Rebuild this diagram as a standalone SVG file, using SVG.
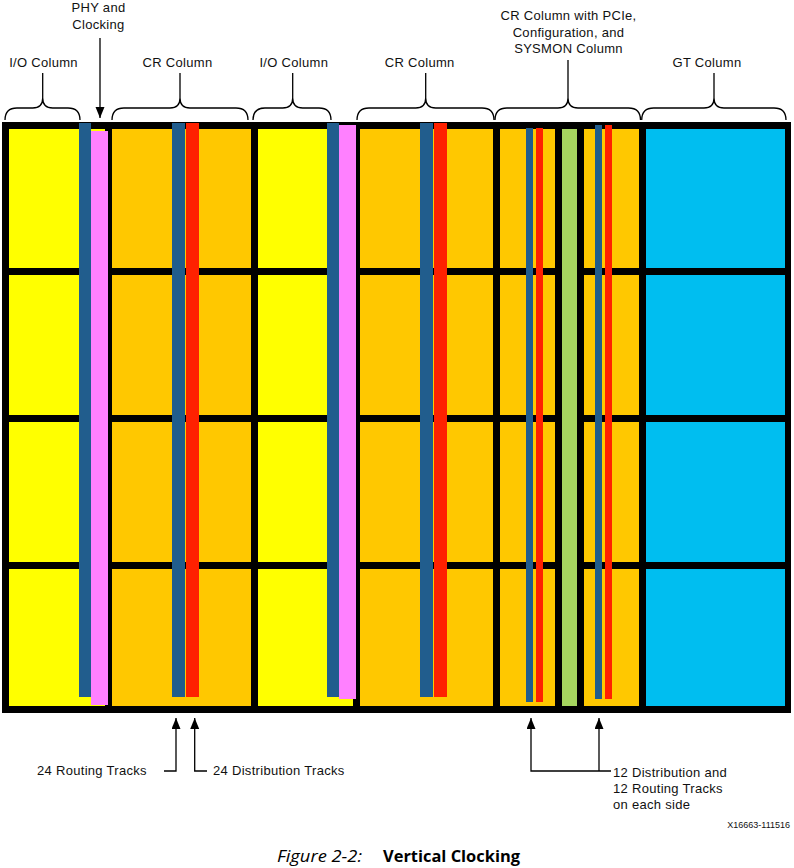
<svg xmlns="http://www.w3.org/2000/svg" width="794" height="868" viewBox="0 0 794 868">
<style>
.lbl{font-family:"Liberation Sans",Arial,sans-serif;font-size:13px;letter-spacing:0.3px;fill:#111}
.mid{text-anchor:middle}
.br{fill:none;stroke:#000;stroke-width:1.3}
.ln{fill:none;stroke:#000;stroke-width:1.3}
.y{fill:#FFFF00}.o{fill:#FFC800}.c{fill:#00BEF0}
.b{fill:#215D8D}.p{fill:#FF80FF}.r{fill:#FF2100}.g{fill:#A6D65F}
.cap{font-family:"Open Sans","Noto Sans",sans-serif;font-size:16px;fill:#000}
</style>
<defs>
<marker id="ah" markerUnits="userSpaceOnUse" markerWidth="12" markerHeight="10" refX="11" refY="4.5" orient="auto">
<path d="M0,0 L11,4.5 L0,9 z" fill="#000"/>
</marker>
</defs>
<rect width="794" height="868" fill="#fff"/>
<rect id="frame" x="2" y="122" width="789" height="591" fill="#000"/>

<g id="io-col-1">
<rect class="y" x="9" y="129" width="96" height="139"/>
<rect class="y" x="9" y="275" width="96" height="140"/>
<rect class="y" x="9" y="422" width="96" height="140"/>
<rect class="y" x="9" y="569" width="96" height="137"/>
<rect class="b" x="79" y="123" width="12" height="574"/>
<rect class="p" x="91" y="131" width="17" height="574"/>
</g>
<g id="cr-col-1">
<rect class="o" x="112" y="129" width="139" height="139"/>
<rect class="o" x="112" y="275" width="139" height="140"/>
<rect class="o" x="112" y="422" width="139" height="140"/>
<rect class="o" x="112" y="569" width="139" height="137"/>
<rect class="b" x="172" y="123" width="13" height="574"/>
<rect class="r" x="186" y="123" width="13" height="574"/>
</g>
<g id="io-col-2">
<rect class="y" x="258" y="129" width="95" height="139"/>
<rect class="y" x="258" y="275" width="95" height="140"/>
<rect class="y" x="258" y="422" width="95" height="140"/>
<rect class="y" x="258" y="569" width="95" height="137"/>
<rect class="b" x="327" y="123" width="12" height="574"/>
<rect class="p" x="339" y="125" width="17" height="574"/>
</g>
<g id="cr-col-2">
<rect class="o" x="360" y="129" width="133" height="139"/>
<rect class="o" x="360" y="275" width="133" height="140"/>
<rect class="o" x="360" y="422" width="133" height="140"/>
<rect class="o" x="360" y="569" width="133" height="137"/>
<rect class="b" x="420" y="123" width="13" height="574"/>
<rect class="r" x="434" y="123" width="13" height="574"/>
</g>
<g id="cr-pcie-col">
<rect class="o" x="500" y="129" width="55" height="139"/>
<rect class="o" x="500" y="275" width="55" height="140"/>
<rect class="o" x="500" y="422" width="55" height="140"/>
<rect class="o" x="500" y="569" width="55" height="137"/>
<rect class="o" x="584" y="129" width="55" height="139"/>
<rect class="o" x="584" y="275" width="55" height="140"/>
<rect class="o" x="584" y="422" width="55" height="140"/>
<rect class="o" x="584" y="569" width="55" height="137"/>
<rect class="g" x="562" y="129" width="15" height="577"/>
<rect class="b" x="526" y="128" width="7" height="574"/>
<rect class="r" x="536" y="128" width="7" height="574"/>
<rect class="b" x="595" y="125" width="7" height="574"/>
<rect class="r" x="605" y="125" width="7" height="574"/>
</g>
<g id="gt-col">
<rect class="c" x="646" y="129" width="139" height="139"/>
<rect class="c" x="646" y="275" width="139" height="140"/>
<rect class="c" x="646" y="422" width="139" height="140"/>
<rect class="c" x="646" y="569" width="139" height="137"/>
</g>

<g id="connectors">
<path class="br" d="M5,120 Q5,108 17,108 H32.7 Q42.7,108 42.7,98 Q42.7,108 52.7,108 H68 Q80,108 80,120 M42.7,98 V73"/>
<path class="br" d="M112,120 Q112,108 124,108 H170 Q180,108 180,98 Q180,108 190,108 H236 Q248,108 248,120 M180,98 V73"/>
<path class="br" d="M253,120 Q253,108 265,108 H282.7 Q292.7,108 292.7,98 Q292.7,108 302.7,108 H319 Q331,108 331,120 M292.7,98 V73"/>
<path class="br" d="M357,120 Q357,108 369,108 H415.7 Q425.7,108 425.7,98 Q425.7,108 435.7,108 H482 Q494,108 494,120 M425.7,98 V73"/>
<path class="br" d="M495,120 Q495,108 507,108 H558 Q568,108 568,98 Q568,108 578,108 H628.5 Q640.5,108 640.5,120 M568,98 V60"/>
<path class="br" d="M641.7,120 Q641.7,108 653.7,108 H704 Q714,108 714,98 Q714,108 724,108 H774 Q786,108 786,120 M714,98 V73"/>
<path class="ln" d="M100,38 V118" marker-end="url(#ah)"/>
<path class="ln" d="M164,771 H176 V718" marker-end="url(#ah)"/>
<path class="ln" d="M207,771 H194.7 V718" marker-end="url(#ah)"/>
<path class="ln" d="M611,771 H531 V718" marker-end="url(#ah)"/>
<path class="ln" d="M599,771 V718" marker-end="url(#ah)"/>
</g>

<g id="labels">
<text class="lbl mid" x="43.5" y="67">I/O Column</text>
<text class="lbl mid" x="98.5" y="12">PHY and</text>
<text class="lbl mid" x="98.5" y="29">Clocking</text>
<text class="lbl mid" x="177.5" y="67">CR Column</text>
<text class="lbl mid" x="293.8" y="67">I/O Column</text>
<text class="lbl mid" x="419.7" y="67">CR Column</text>
<text class="lbl mid" x="568.5" y="20">CR Column with PCIe,</text>
<text class="lbl mid" x="568.5" y="37">Configuration, and</text>
<text class="lbl mid" x="568.5" y="53">SYSMON Column</text>
<text class="lbl mid" x="707" y="67">GT Column</text>
<text class="lbl" x="37" y="775">24 Routing Tracks</text>
<text class="lbl" x="213" y="775">24 Distribution Tracks</text>
<text class="lbl" x="613" y="777">12 Distribution and</text>
<text class="lbl" x="613" y="793">12 Routing Tracks</text>
<text class="lbl" x="613" y="809">on each side</text>
<text x="790" y="828" text-anchor="end" style="font-family:'Liberation Sans',Arial,sans-serif;font-size:9px;fill:#111">X16663-111516</text>
<text class="cap" x="277" y="862" style="font-style:italic" textLength="85" lengthAdjust="spacingAndGlyphs">Figure 2-2:</text>
<text class="cap" x="383" y="862" style="font-weight:bold" textLength="137" lengthAdjust="spacingAndGlyphs">Vertical Clocking</text>
</g>
</svg>
